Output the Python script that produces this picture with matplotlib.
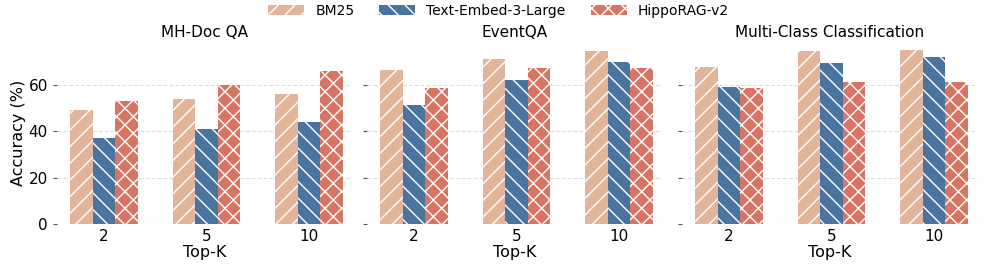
import matplotlib.pyplot as plt
import numpy as np

topk = ['2', '5', '10']
methods = ['BM25', 'Text-Embed-3-Large', 'HippoRAG-v2']
titles = ['MH-Doc QA', 'EventQA', 'Multi-Class Classification']

# accuracy (%) per task, rows = methods, cols = top-k
mhdoc = [[49, 54, 56],
         [37, 41, 44],
         [53, 60, 66]]
eventqa = [[66.5, 71.1, 74.5],
           [51.5, 62.2, 69.9],
           [58.7, 67.3, 67.2]]
multiclass = [[67.6, 74.5, 75.1],
              [59.1, 69.3, 72.2],
              [58.7, 61.3, 61.3]]

colors = ['#E2B49A', '#4A74A0', '#D77463']
hatches = ['//', '\\\\', 'xx']

plt.rcParams['hatch.color'] = 'white'
plt.rcParams['hatch.linewidth'] = 1.0

fig = plt.figure(figsize=(9.97, 2.77), dpi=100)
lefts = [0.057, 0.368, 0.684]
width = 0.296
axes = []
for i in range(3):
    if i == 0:
        ax = fig.add_axes([lefts[i], 0.191, width, 0.66])
    else:
        ax = fig.add_axes([lefts[i], 0.191, width, 0.66], sharey=axes[0])
    axes.append(ax)

bw = 0.22
x = np.arange(len(topk))
for ax, data, title in zip(axes, [mhdoc, eventqa, multiclass], titles):
    for j in range(3):
        ax.bar(x + (j - 1) * bw, data[j], bw, color=colors[j], hatch=hatches[j],
               edgecolor='white', linewidth=0, label=methods[j], zorder=3)
    ax.set_xticks(x)
    ax.set_xticklabels(topk, fontsize=11)
    ax.set_xlabel('Top-K', fontsize=11.5, labelpad=1)
    ax.set_title(title, fontsize=11, pad=3)
    ax.set_xlim(-0.46, 2.42)
    ax.grid(axis='y', linestyle='--', color='#dddddd', linewidth=0.8, zorder=0)
    for s in ax.spines.values():
        s.set_visible(False)
    ax.tick_params(axis='x', length=0)
    ax.tick_params(axis='y', length=3, color='#555555', labelsize=11)

axes[0].set_ylim(0, 78.8)
axes[0].set_yticks([0, 20, 40, 60])
axes[0].set_ylabel('Accuracy (%)', fontsize=11.5, labelpad=2)
for ax in axes[1:]:
    plt.setp(ax.get_yticklabels(), visible=False)

handles, labels = axes[0].get_legend_handles_labels()
fig.legend(handles, labels, loc='upper center', ncol=3, frameon=False,
           fontsize=10, bbox_to_anchor=(0.5, 1.005), columnspacing=1.8,
           handlelength=2.6, handletextpad=0.8, borderaxespad=0)

plt.savefig('out.png', dpi=100)
